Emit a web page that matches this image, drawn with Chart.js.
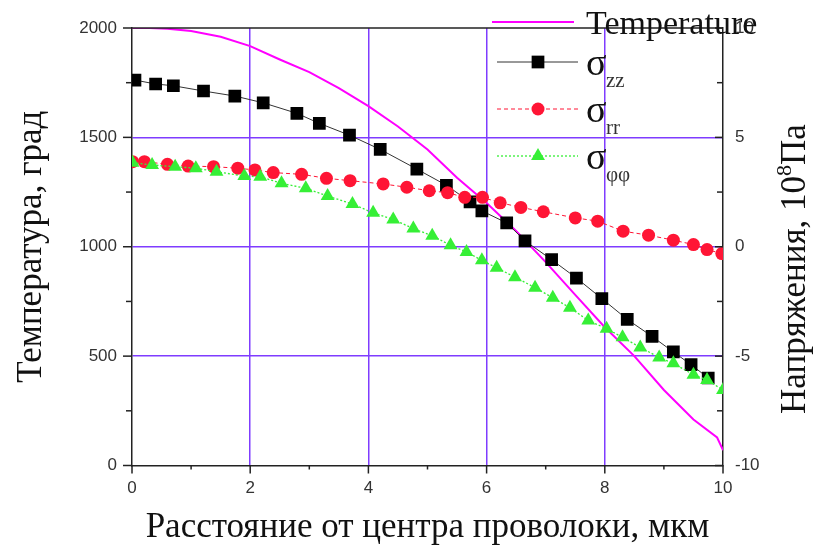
<!DOCTYPE html>
<html>
<head>
<meta charset="utf-8">
<script src="https://cdn.jsdelivr.net/npm/chart.js@4.4.1/dist/chart.umd.min.js"></script>
<style>
  html, body { margin: 0; padding: 0; background: #ffffff; }
  canvas { display: block; }
</style>
</head>
<body>
<canvas id="chart" width="813" height="549"></canvas>
<script>
// Temperature profile across the wire radius (left axis, degrees)
const distTemp    = [0, 0.3, 0.6, 1.0, 1.5, 2.0, 2.5, 3.0, 3.5, 4.0, 4.5, 5.0, 5.5, 6.0, 6.5, 7.0, 7.5, 8.0, 8.5, 9.0, 9.5, 9.9, 10.0];
const temperature = [2000, 2000, 1997, 1986, 1960, 1917, 1856, 1798, 1725, 1643, 1550, 1445, 1315, 1200, 1072, 930, 780, 632, 500, 345, 210, 128, 70];

// Axial stress sigma_zz (right axis, 10^8 Pa)
const distZZ  = [0.05, 0.40, 0.70, 1.21, 1.74, 2.22, 2.79, 3.17, 3.68, 4.20, 4.82, 5.32, 5.72, 5.92, 6.34, 6.65, 7.10, 7.52, 7.95, 8.38, 8.80, 9.16, 9.46, 9.75];
const sigmaZZ = [7.62, 7.44, 7.36, 7.12, 6.89, 6.58, 6.10, 5.64, 5.10, 4.45, 3.55, 2.81, 2.05, 1.64, 1.09, 0.27, -0.59, -1.43, -2.37, -3.32, -4.10, -4.81, -5.39, -6.00];

// Radial stress sigma_rr
const distRR  = [0.01, 0.21, 0.60, 0.95, 1.38, 1.79, 2.08, 2.39, 2.87, 3.29, 3.69, 4.25, 4.65, 5.03, 5.34, 5.63, 5.93, 6.23, 6.58, 6.96, 7.50, 7.88, 8.31, 8.74, 9.16, 9.50, 9.73, 9.98];
const sigmaRR = [3.89, 3.89, 3.77, 3.69, 3.66, 3.59, 3.51, 3.39, 3.31, 3.13, 3.02, 2.87, 2.72, 2.56, 2.47, 2.26, 2.26, 2.01, 1.80, 1.60, 1.32, 1.17, 0.71, 0.53, 0.30, 0.10, -0.13, -0.31];

// Hoop stress sigma_phiphi
const distPP  = [0.01, 0.34, 0.73, 1.08, 1.43, 1.90, 2.17, 2.53, 2.94, 3.31, 3.73, 4.08, 4.42, 4.76, 5.08, 5.39, 5.66, 5.92, 6.17, 6.48, 6.82, 7.12, 7.41, 7.72, 8.03, 8.30, 8.60, 8.92, 9.16, 9.50, 9.73, 10.0];
const sigmaPP = [3.84, 3.74, 3.66, 3.59, 3.43, 3.23, 3.20, 2.90, 2.67, 2.32, 1.95, 1.55, 1.25, 0.83, 0.50, 0.07, -0.24, -0.62, -0.96, -1.39, -1.87, -2.33, -2.79, -3.37, -3.75, -4.14, -4.60, -5.06, -5.33, -5.85, -6.09, -6.55];

// Tick values
const distTicks   = [0, 2, 4, 6, 8, 10];
const tempTicks   = [0, 500, 1000, 1500, 2000];
const stressTicks = [-10, -5, 0, 5, 10];

// Legend entries: symbol + subscript
const legendTemp  = 'Temperature';
const legendSigma = [
  { main: 'σ', sub: 'zz' },
  { main: 'σ', sub: 'rr' },
  { main: 'σ', sub: 'φφ' }
];

const xTitle = 'Расстояние от центра проволоки, мкм';
const yTitle = 'Температура, град';
const y2Main = 'Напряжения, 10';
const y2Sup  = '8';
const y2Tail = 'Па';

const GRID   = '#7f3cff';
const AXIS   = '#222222';
const LABEL  = '#333333';
const MAGENTA = '#ff00ff';
const RED    = '#ff1535';
const GREEN  = '#36ef36';
const SANS   = '"Liberation Sans", Arial, sans-serif';
const SERIF  = '"Liberation Serif", "Times New Roman", serif';

const pts = (xs, ys) => xs.map((v, i) => ({ x: v, y: ys[i] }));
const innerGrid = (lo, hi) => c => (c.tick && c.tick.value > lo && c.tick.value < hi) ? GRID : 'rgba(0,0,0,0)';
const plain = v => String(v);

// Frame, tick marks, right-hand title and legend
const decorations = {
  id: 'decorations',
  afterDraw(chart) {
    const { ctx, chartArea: a, scales } = chart;
    const sx = scales.x, sy = scales.y, sy2 = scales.y2;
    const seg = (x1, y1, x2, y2) => { ctx.beginPath(); ctx.moveTo(x1, y1); ctx.lineTo(x2, y2); ctx.stroke(); };

    ctx.save();
    ctx.strokeStyle = AXIS;
    ctx.lineWidth = 1.5;
    seg(a.left, a.top, a.right, a.top);

    // left axis: major + minor, outward
    for (let i = 0; i < tempTicks.length; i++) {
      const v = tempTicks[i];
      const p = sy.getPixelForValue(v);
      seg(a.left - 9, p, a.left, p);
      if (i < tempTicks.length - 1) {
        const m = sy.getPixelForValue((v + tempTicks[i + 1]) / 2);
        seg(a.left - 6, m, a.left, m);
      }
    }
    // bottom axis: major + minor, downward
    for (let i = 0; i < distTicks.length; i++) {
      const v = distTicks[i];
      const p = sx.getPixelForValue(v);
      seg(p, a.bottom, p, a.bottom + 8);
      if (i < distTicks.length - 1) {
        const m = sx.getPixelForValue((v + distTicks[i + 1]) / 2);
        seg(m, a.bottom, m, a.bottom + 4);
      }
    }
    // right axis: inward
    for (let i = 0; i < stressTicks.length; i++) {
      const v = stressTicks[i];
      const p = sy2.getPixelForValue(v);
      seg(a.right - 8, p, a.right, p);
      if (i < stressTicks.length - 1) {
        const m = sy2.getPixelForValue((v + stressTicks[i + 1]) / 2);
        seg(a.right - 6, m, a.right, m);
      }
    }
    ctx.restore();

    // right axis title, reading bottom to top, with superscript
    ctx.save();
    ctx.fillStyle = '#111';
    ctx.textBaseline = 'alphabetic';
    ctx.textAlign = 'left';
    const big = '35px ' + SERIF, small = '22px ' + SERIF;
    ctx.font = big;
    const w1 = ctx.measureText(y2Main).width;
    const w3 = ctx.measureText(y2Tail).width;
    ctx.font = small;
    const w2 = ctx.measureText(y2Sup).width;
    const total = w1 + w2 + w3;
    ctx.translate(805, 269);
    ctx.rotate(-Math.PI / 2);
    let x0 = -total / 2;
    ctx.font = big;
    ctx.fillText(y2Main, x0, 0);
    ctx.font = small;
    ctx.fillText(y2Sup, x0 + w1, -14);
    ctx.font = big;
    ctx.fillText(y2Tail, x0 + w1 + w2, 0);
    ctx.restore();

    // legend
    const ds = chart.data.datasets;
    ctx.save();
    // temperature entry
    ctx.strokeStyle = ds[0].borderColor;
    ctx.lineWidth = ds[0].borderWidth;
    seg(492, 22, 574, 22);
    ctx.fillStyle = '#111';
    ctx.font = '34px ' + SERIF;
    ctx.textBaseline = 'alphabetic';
    ctx.fillText(legendTemp, 586, 34);

    const rows = [62, 109, 156];
    for (let i = 0; i < 3; i++) {
      const d = ds[i + 1];
      const yy = rows[i];
      ctx.save();
      ctx.strokeStyle = d.borderColor;
      ctx.lineWidth = d.borderWidth;
      ctx.setLineDash(d.borderDash || []);
      seg(497, yy, 578, yy);
      ctx.restore();
      ctx.save();
      ctx.fillStyle = d.pointBackgroundColor;
      ctx.strokeStyle = d.pointBackgroundColor;
      Chart.helpers.drawPoint(ctx, { pointStyle: d.pointStyle, radius: d.pointRadius, rotation: 0, borderWidth: 0 }, 538, yy);
      ctx.restore();
      ctx.fillStyle = '#111';
      ctx.font = '38px ' + SERIF;
      ctx.fillText(legendSigma[i].main, 586, yy + 13);
      ctx.fillStyle = '#333';
      ctx.font = '21px ' + SERIF;
      ctx.fillText(legendSigma[i].sub, 606, yy + 25);
    }
    ctx.restore();
  }
};

new Chart(document.getElementById('chart'), {
  type: 'scatter',
  data: {
    datasets: [
      {
        label: 'Temperature',
        data: pts(distTemp, temperature),
        yAxisID: 'y',
        showLine: true,
        borderColor: MAGENTA,
        borderWidth: 2,
        pointRadius: 0,
        tension: 0,
        order: 4
      },
      {
        label: 'σzz',
        data: pts(distZZ, sigmaZZ),
        yAxisID: 'y2',
        showLine: true,
        borderColor: '#333333',
        borderWidth: 1,
        pointStyle: 'rect',
        pointRadius: 9,
        pointBackgroundColor: '#000000',
        pointBorderWidth: 0,
        order: 3
      },
      {
        label: 'σrr',
        data: pts(distRR, sigmaRR),
        yAxisID: 'y2',
        showLine: true,
        borderColor: RED,
        borderWidth: 1,
        borderDash: [4, 3],
        pointStyle: 'circle',
        pointRadius: 6.5,
        pointBackgroundColor: RED,
        pointBorderWidth: 0,
        order: 2
      },
      {
        label: 'σφφ',
        data: pts(distPP, sigmaPP),
        yAxisID: 'y2',
        showLine: true,
        borderColor: GREEN,
        borderWidth: 1.3,
        borderDash: [2, 2],
        pointStyle: 'triangle',
        pointRadius: 8,
        pointBackgroundColor: GREEN,
        pointBorderWidth: 0,
        order: 1
      }
    ]
  },
  options: {
    responsive: false,
    animation: false,
    devicePixelRatio: 1,
    events: [],
    layout: { padding: { top: 28, left: 0, right: 0, bottom: 0 } },
    plugins: { legend: { display: false }, tooltip: { enabled: false } },
    scales: {
      x: {
        type: 'linear',
        min: 0, max: 10,
        afterBuildTicks: s => { s.ticks = distTicks.map(v => ({ value: v })); },
        afterFit: s => { s.height = 83.5; },
        grid: { color: innerGrid(0, 10), lineWidth: 1.5, drawTicks: false },
        border: { color: AXIS, width: 1.5 },
        ticks: { color: LABEL, font: { family: SANS, size: 17 }, padding: 13, maxRotation: 0, callback: plain },
        title: {
          display: true, text: xTitle, color: '#111',
          font: { family: SERIF, size: 35, weight: 'normal' },
          padding: { top: 0, bottom: 0 }
        }
      },
      y: {
        type: 'linear',
        position: 'left',
        min: 0, max: 2000,
        afterBuildTicks: s => { s.ticks = tempTicks.map(v => ({ value: v })); },
        afterFit: s => { s.width = 132; },
        grid: { color: innerGrid(0, 2000), lineWidth: 1.5, drawTicks: false },
        border: { color: AXIS, width: 1.5 },
        ticks: { color: LABEL, font: { family: SANS, size: 17 }, padding: 15, callback: plain },
        title: {
          display: true, text: yTitle, color: '#111',
          font: { family: SERIF, size: 35, weight: 'normal' },
          padding: { top: 11, bottom: 0 }
        }
      },
      y2: {
        type: 'linear',
        position: 'right',
        min: -10, max: 10,
        afterBuildTicks: s => { s.ticks = stressTicks.map(v => ({ value: v })); },
        afterFit: s => { s.width = 90; },
        grid: { display: false, drawTicks: false },
        border: { color: AXIS, width: 1.5 },
        ticks: { color: LABEL, font: { family: SANS, size: 17 }, padding: 12, callback: plain }
      }
    }
  },
  plugins: [decorations]
});
</script>
</body>
</html>
